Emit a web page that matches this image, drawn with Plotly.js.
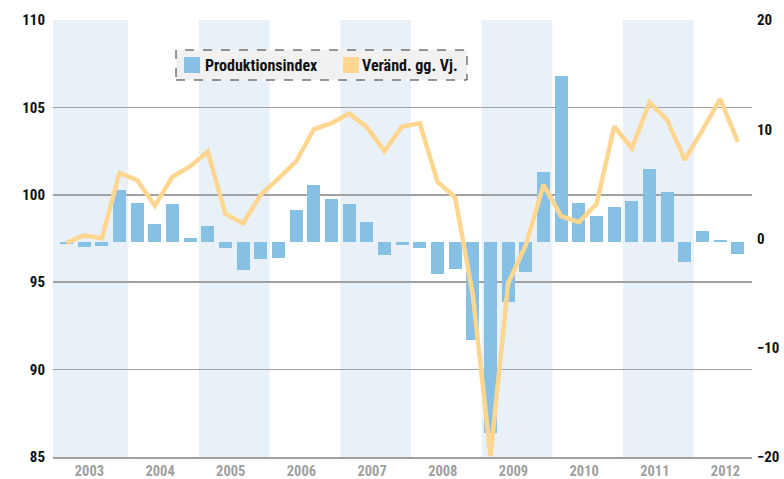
<!DOCTYPE html>
<html>
<head>
<meta charset="utf-8">
<script src="https://cdn.plot.ly/plotly-3.0.1.min.js"></script>
<style>html,body{margin:0;padding:0;background:#fff;}#chart{width:784px;height:479px;}</style>
</head>
<body>
<div id="chart"></div>
<script>
// ---- data ----
const years = ['2003','2004','2005','2006','2007','2008','2009','2010','2011','2012'];
const quarters = ['Q1','Q2','Q3','Q4'];
// Produktionsindex (left axis, index level), 2003 Q1 .. 2012 Q3
const produktionsindex = [
  97.20, 97.01, 97.07, 100.27,
  99.53, 98.33, 99.47, 97.53,
  98.21, 96.96, 95.70, 96.33,
  96.38, 99.13, 100.56, 99.76,
  99.47, 98.44, 96.56, 97.13,
  96.96, 95.47, 95.76, 91.69,
  86.39, 93.87, 95.58, 101.30,
  106.80, 99.53, 98.79, 99.30,
  99.65, 101.48, 100.16, 96.16,
  97.93, 97.42, 96.61
];
// Veränderung gegenüber Vorjahr in % (right axis)
const veraenderung = [
  -0.4, 0.3, 0.0, 6.0,
  5.35, 3.0, 5.65, 6.6,
  7.95, 2.25, 1.4, 4.0,
  5.5, 7.05, 10.0, 10.55,
  11.45, 10.2, 8.0, 10.25,
  10.55, 5.2, 3.75, -5.15,
  -19.9, -4.1, -0.6, 4.9,
  2.05, 1.5, 3.15, 10.25,
  8.25, 12.45, 10.85, 7.2,
  9.95, 12.75, 8.85
];
const legendNames = ['Produktionsindex', 'Veränd. gg. Vj.'];
const barBase = 97.3;

// ---- pick a condensed bold font if one is installed ----
const canvas = document.createElement('canvas');
const ctx = canvas.getContext('2d');
function textW(fam, size, txt) { ctx.font = 'bold ' + size + 'px ' + fam; return ctx.measureText(txt).width; }
const candidates = ['Liberation Sans Narrow', 'Arial Narrow', 'Roboto Condensed', 'Open Sans Condensed',
  'Noto Sans Condensed', 'DejaVu Sans Condensed', 'Liberation Sans'];
let fontFam = 'sans-serif';
for (const c of candidates) {
  const probe = 'Produktionsindex 0123456789';
  if (textW('"' + c + '", monospace', 20, probe) !== textW('monospace', 20, probe)) { fontFam = '"' + c + '", sans-serif'; break; }
}
// size the legend text so "Produktionsindex" spans about 115 px as in the reference
const legendSize = Math.min(16, 15 * 115 / textW(fontFam, 15, legendNames[0]));

// ---- layout constants ----
const W = 784, H = 479;
const M = {l: 53, r: 32, t: 20, b: 22};
const plotW = W - M.l - M.r, plotH = H - M.t - M.b;
const xRange = [-0.76, 38.8];
const px = x => (x - M.l) / plotW;
const py = y => (H - M.b - y) / plotH;

const xs = produktionsindex.map((_, i) => i);
const labels = produktionsindex.map((_, i) => years[Math.floor(i / 4)] + ' ' + quarters[i % 4]);

const barColor = '#86c1e5';
const lineColor = '#fed68f';
const bandColor = '#e9f1f8';
const gridColor = '#a0a0a0';

const traces = [
  {
    type: 'bar', x: xs, y: produktionsindex.map(v => v - barBase), base: barBase,
    customdata: labels, name: legendNames[0],
    marker: {color: barColor}, width: 0.74, yaxis: 'y', showlegend: false
  },
  {
    type: 'scatter', mode: 'lines', x: xs, y: veraenderung, name: legendNames[1],
    line: {color: lineColor, width: 4.5}, yaxis: 'y2', showlegend: false, customdata: labels
  }
];

const shapes = [];
years.forEach((y, i) => {
  if (i % 2 === 0) {
    shapes.push({type: 'rect', xref: 'x', yref: 'paper', x0: i === 0 ? xRange[0] : 4 * i - 0.5, x1: 4 * i + 3.5,
      y0: 0, y1: 1, fillcolor: bandColor, line: {width: 0}, layer: 'below'});
  }
});
// legend box
shapes.push({type: 'rect', xref: 'paper', yref: 'paper', x0: px(176), x1: px(467), y0: py(80), y1: py(50),
  fillcolor: '#f1f1f1', line: {color: '#333', width: 1, dash: 'dash'}, layer: 'above'});
// legend swatches
shapes.push({type: 'rect', xref: 'paper', yref: 'paper', x0: px(184), x1: px(200), y0: py(73), y1: py(57),
  fillcolor: barColor, line: {width: 0}, layer: 'above'});
shapes.push({type: 'rect', xref: 'paper', yref: 'paper', x0: px(343), x1: px(359), y0: py(73), y1: py(57),
  fillcolor: lineColor, line: {width: 0}, layer: 'above'});

const annotations = [
  {xref: 'paper', yref: 'paper', x: px(203), y: py(65), xanchor: 'left', yanchor: 'middle', showarrow: false,
    text: legendNames[0], font: {family: fontFam, size: legendSize, weight: 'bold', color: '#111'}},
  {xref: 'paper', yref: 'paper', x: px(360), y: py(65), xanchor: 'left', yanchor: 'middle', showarrow: false,
    text: legendNames[1], font: {family: fontFam, size: legendSize, weight: 'bold', color: '#111'}}
];

const layout = {
  width: W, height: H,
  margin: M,
  paper_bgcolor: '#fff', plot_bgcolor: 'rgba(0,0,0,0)',
  showlegend: false,
  bargap: 0,
  xaxis: {
    range: xRange, tickmode: 'array',
    tickvals: years.map((_, i) => 4 * i + 1.3), ticktext: years,
    showgrid: false, zeroline: false, showline: true, linecolor: gridColor, linewidth: 1.5,
    ticks: '', tickfont: {family: fontFam, size: 14.5, weight: 'bold', color: '#a0a0a0'}, ticklabelstandoff: 0
  },
  yaxis: {
    range: [85, 110], tickmode: 'array', tickvals: [85, 90, 95, 100, 105, 110],
    showgrid: true, gridcolor: gridColor, gridwidth: 1.5, zeroline: false, showline: false,
    ticks: '', tickfont: {family: fontFam, size: 15, weight: 'bold', color: '#111'}, ticklabelstandoff: 7
  },
  yaxis2: {
    overlaying: 'y', side: 'right', range: [-20, 20], tickmode: 'array', tickvals: [-20, -10, 0, 10, 20],
    showgrid: false, zeroline: false, showline: false,
    ticks: '', tickfont: {family: fontFam, size: 15, weight: 'bold', color: '#111'}, ticklabelstandoff: 4
  },
  shapes: shapes,
  annotations: annotations
};

Plotly.newPlot('chart', traces, layout, {displayModeBar: false, staticPlot: true});
</script>
</body>
</html>
